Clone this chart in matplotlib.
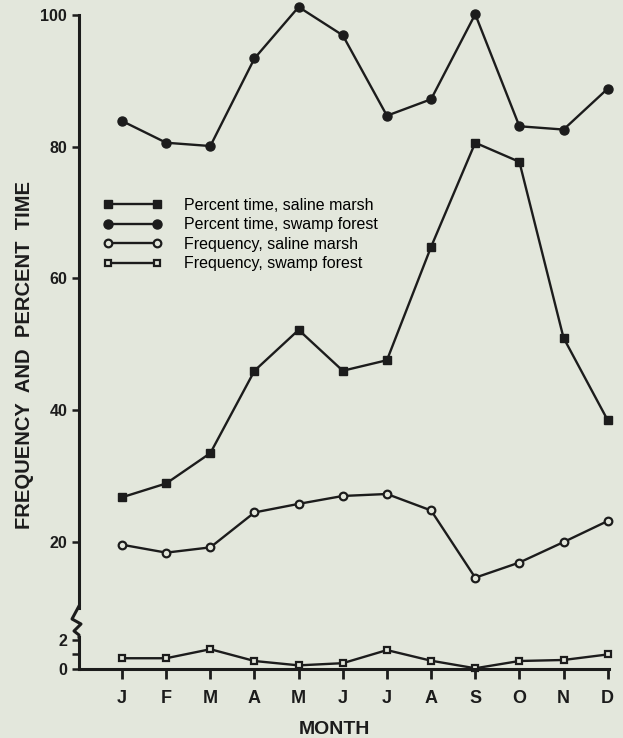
import numpy as np
import matplotlib.pyplot as plt
from matplotlib.lines import Line2D

plt.rcParams['font.family'] = ['Liberation Sans', 'DejaVu Sans']

# values
months = ['J', 'F', 'M', 'A', 'M', 'J', 'J', 'A', 'S', 'O', 'N', 'D']
pct_saline = [26.8, 28.9, 33.5, 46.0, 52.2, 46.0, 47.6, 64.8, 80.6, 77.7, 51.0, 38.5]
pct_swamp = [83.9, 80.6, 80.1, 93.4, 101.2, 96.9, 84.7, 87.2, 100.1, 83.1, 82.6, 88.8]
freq_saline = [19.6, 18.4, 19.2, 24.5, 25.8, 27.0, 27.3, 24.8, 14.6, 16.9, 20.0, 23.2]
freq_swamp = [0.74, 0.74, 1.36, 0.55, 0.25, 0.4, 1.3, 0.57, 0.05, 0.55, 0.62, 1.0]

labels = ['Percent time, saline marsh', 'Percent time, swamp forest',
          'Frequency, saline marsh', 'Frequency, swamp forest']

bg = '#e3e7dc'
ink = '#1c1c1c'
W, H = 623, 738
x = np.arange(len(months))

fig = plt.figure(figsize=(W / 100, H / 100), dpi=100, facecolor=bg)

def box(left, top, right, bottom):
    return [left / W, 1 - bottom / H, (right - left) / W, (bottom - top) / H]

ax = fig.add_axes(box(79, 5, 609, 608))
axb = fig.add_axes(box(79, 637, 609, 669))
for a in (ax, axb):
    a.set_facecolor('none')
    a.set_xlim(-0.975, 11.03)
    for s in ('top', 'right'):
        a.spines[s].set_visible(False)
    a.spines['left'].set_linewidth(2.2)
    a.spines['left'].set_color(ink)

ax.spines['bottom'].set_visible(False)
ax.set_ylim(10, 101.5)
ax.spines['left'].set_bounds(10, 100)
ax.set_yticks([20, 40, 60, 80, 100])
ax.set_xticks([])
ax.tick_params(axis='y', direction='out', length=5, width=1.8, pad=3.5,
               labelsize=11.5, colors=ink)

axb.set_ylim(0, 2.2)
axb.set_yticks([0, 2])
axb.set_yticks([1], minor=True)
axb.spines['bottom'].set_linewidth(2.2)
axb.spines['bottom'].set_color(ink)
axb.set_xticks(x)
axb.set_xticklabels(months)
axb.tick_params(axis='y', which='both', direction='out', length=5, width=1.8,
                pad=3.5, labelsize=11.5, colors=ink)
axb.tick_params(axis='x', direction='out', length=7, width=2, pad=8,
                labelsize=13, colors=ink)

for lab in ax.get_yticklabels() + axb.get_yticklabels() + axb.get_xticklabels():
    lab.set_fontweight('bold')

kw = dict(color=ink, lw=1.7, clip_on=False)
l1, = ax.plot(x, pct_saline, marker='s', ms=5.5, mfc=ink, mec=ink, **kw)
l2, = ax.plot(x, pct_swamp, marker='o', ms=6.5, mfc=ink, mec=ink, **kw)
l3, = ax.plot(x, freq_saline, marker='o', ms=5.5, mfc=bg, mec=ink, mew=1.6, **kw)
l4, = axb.plot(x, freq_swamp, marker='s', ms=5, mfc=bg, mec=ink, mew=1.6, **kw)

ax.legend([l1, l2, l3, l4], labels, loc='upper left', frameon=False,
          bbox_to_anchor=(103 / W, 1 - 198 / H), bbox_transform=fig.transFigure,
          numpoints=2, handlelength=3.7, handletextpad=1.4, labelspacing=0.28,
          borderpad=0, borderaxespad=0, fontsize=11.5)

# axis break squiggle
zx = [79, 72, 81, 74, 79, 79]
zy = [606, 619, 624, 631, 635, 637]
fig.add_artist(Line2D([v / W for v in zx], [1 - v / H for v in zy],
                      color=ink, lw=2.2, transform=fig.transFigure))

fig.text(334 / W, 1 - 729 / H, 'MONTH', ha='center', va='center',
         fontsize=14, fontweight='bold', color=ink)
fig.text(25 / W, 1 - 355 / H, 'FREQUENCY  AND  PERCENT  TIME', ha='center',
         va='center', rotation=90, fontsize=14.5, fontweight='bold', color=ink)

fig.savefig('out.png', dpi=100, facecolor=bg)
